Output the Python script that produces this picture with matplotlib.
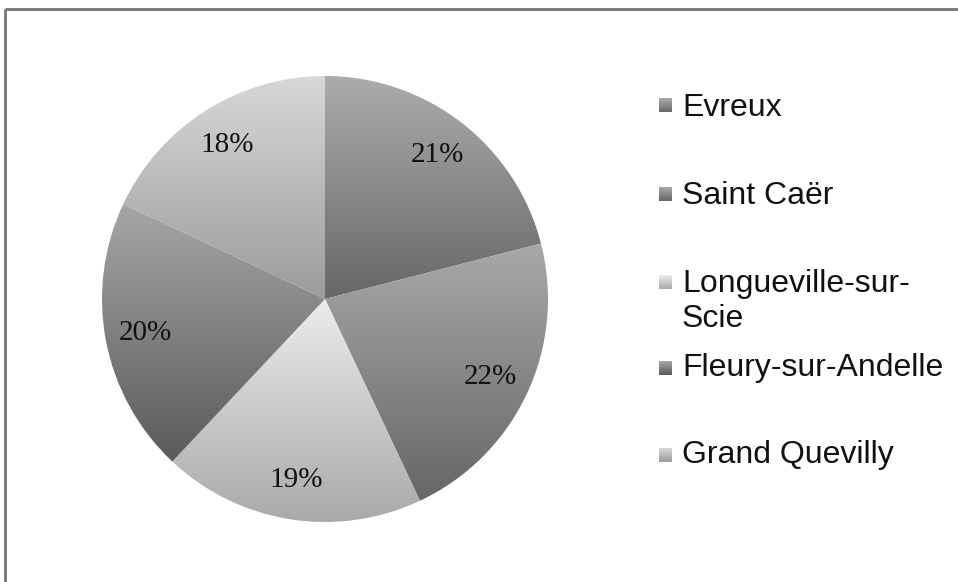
import numpy as np
import matplotlib
matplotlib.use("Agg")
import matplotlib.pyplot as plt
from matplotlib.colors import LinearSegmentedColormap

# data
towns = ["Evreux", "Saint Caër", "Longueville-sur-\nScie", "Fleury-sur-Andelle", "Grand Quevilly"]
shares = [21, 22, 19, 20, 18]

# gradient (top, bottom) grey for each slice
tops = ["#acacac", "#a9a9a9", "#ececec", "#a6a6a6", "#d8d8d8"]
bottoms = ["#676767", "#666666", "#a9a9a9", "#5a5a5a", "#9b9b9b"]

W, H = 958, 582
fig = plt.figure(figsize=(W / 100, H / 100), dpi=100)
ax = fig.add_axes([0, 0, 1, 1])

cx, cy, r = 325, H - 299, 223
grad = np.linspace(1, 0, 256).reshape(-1, 1)

wedges, _, autotexts = ax.pie(shares, center=(cx, cy), radius=r, startangle=90,
                              counterclock=False, autopct="%d%%", pctdistance=0.82,
                              wedgeprops=dict(facecolor="none", edgecolor="none"),
                              textprops=dict(family="Liberation Serif", fontsize=21, color="#111111"),
                              frame=True)

for w, t, b in zip(wedges, tops, bottoms):
    cmap = LinearSegmentedColormap.from_list("g", [b, t])
    ext = w.get_path().get_extents()
    im = ax.imshow(grad, cmap=cmap, vmin=0, vmax=1, aspect="auto",
                   extent=[ext.x0, ext.x1, ext.y0, ext.y1], zorder=1)
    im.set_clip_path(w)

for t in autotexts:
    t.set_zorder(5)

# legend (baseline of last line, square centre)
leg_base = [H - 116, H - 204, H - 327, H - 376, H - 463]
sq_center = [H - 105, H - 194, H - 282, H - 368, H - 455]
for name, yb, ys, t, b in zip(towns, leg_base, sq_center, tops, bottoms):
    cmap = LinearSegmentedColormap.from_list("g", [b, t])
    ax.imshow(grad, cmap=cmap, vmin=0, vmax=1, aspect="auto",
              extent=[659, 672, ys - 7, ys + 7], zorder=3)
    ax.text(682, yb, name, family="Liberation Sans", fontsize=23, va="baseline",
            ha="left", color="#111111", linespacing=1.2)

ax.set_xlim(0, W)
ax.set_ylim(0, H)
ax.set_aspect("equal")
ax.axis("off")

# chart border (top and left only visible)
ax.plot([5, W], [H - 9, H - 9], color="#767676", lw=2, solid_capstyle="butt")
ax.plot([5, 5], [H - 9, 0], color="#767676", lw=2, solid_capstyle="butt")

fig.savefig("out.png", dpi=100, facecolor="white")
